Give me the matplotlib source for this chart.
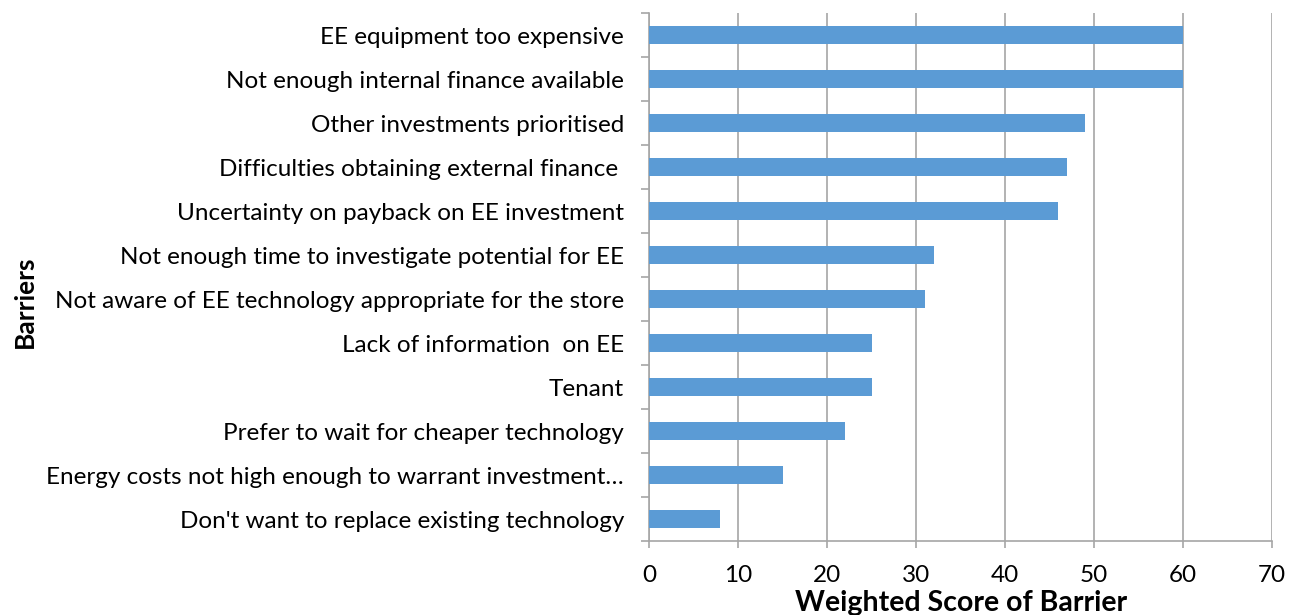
import matplotlib
matplotlib.use("Agg")
import matplotlib.pyplot as plt
import numpy as np

categories = [
    "EE equipment too expensive",
    "Not enough internal finance available",
    "Other investments prioritised",
    "Difficulties obtaining external finance ",
    "Uncertainty on payback on EE investment",
    "Not enough time to investigate potential for EE",
    "Not aware of EE technology appropriate for the store",
    "Lack of information  on EE",
    "Tenant",
    "Prefer to wait for cheaper technology",
    "Energy costs not high enough to warrant investment\u2026",
    "Don't want to replace existing technology",
]
values = [60, 60, 49, 47, 46, 32, 31, 25, 25, 22, 15, 8]
xticks = [0, 10, 20, 30, 40, 50, 60, 70]

plt.rcParams['font.family'] = ['Lato', 'DejaVu Sans']

fig = plt.figure(figsize=(13, 6.15), dpi=100)
ax = fig.add_axes([649/1300, 1-541/615, (1272-649)/1300, (541-13)/615])

n = len(categories)
pos = np.arange(n)[::-1]
ax.barh(pos, values, height=0.4, color='#5B9BD5', zorder=3)
ax.set_ylim(-0.5, n-0.5)
ax.set_xlim(0, 70)
ax.set_xticks(xticks)
ax.set_xticklabels([str(t) for t in xticks], fontsize=17.5)
ax.xaxis.grid(True, color='#A6A6A6', linewidth=1.2, zorder=0)
ax.set_yticks(pos)
ax.set_yticklabels(categories, fontsize=17.5)
ax.tick_params(axis='y', length=0, pad=18)
ax.set_yticks(np.arange(-0.5, n, 1), minor=True)
ax.tick_params(axis='y', which='minor', length=6, color='#A6A6A6', width=1.2)
ax.tick_params(axis='x', length=5, color='#A6A6A6', width=1.2, pad=12)
for s in ['top', 'right']:
    ax.spines[s].set_visible(False)
for s in ['left', 'bottom']:
    ax.spines[s].set_color('#A6A6A6')
    ax.spines[s].set_linewidth(1.2)

fig.text(961/1300, 1-603/615, "Weighted Score of Barrier", fontsize=20.5,
         fontweight='bold', ha='center', va='center')
fig.text(25/1300, 1-302/615, "Barriers", rotation=90, fontsize=19, fontweight='bold',
         ha='center', va='center')

fig.savefig("out.png", dpi=100)
